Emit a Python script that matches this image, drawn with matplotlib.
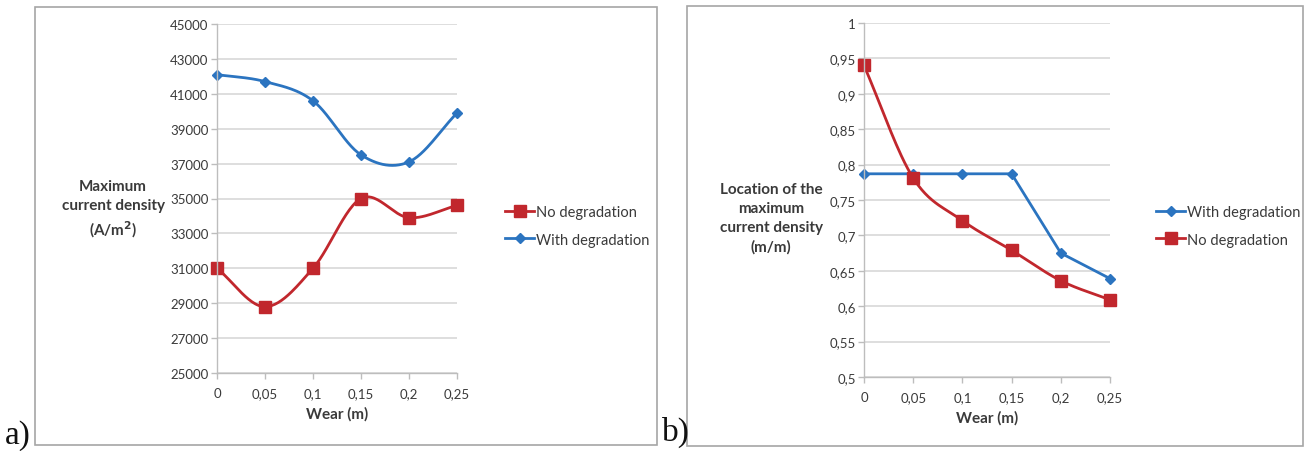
import numpy as np
import matplotlib.pyplot as plt
from matplotlib.patches import Rectangle
from matplotlib.lines import Line2D

plt.rcParams["font.family"] = ["Lato", "DejaVu Sans"]

# ---------------- Dados ----------------
wear = [0, 0.05, 0.1, 0.15, 0.2, 0.25]
wear_labels = ["0", "0,05", "0,1", "0,15", "0,2", "0,25"]

# a) densidade de corrente máxima (A/m²)
jmax_no_deg = [31000, 28800, 31000, 35000, 33900, 34600]
jmax_with_deg = [42100, 41700, 40600, 37500, 37100, 39900]
jmax_ticks = [25000, 27000, 29000, 31000, 33000, 35000, 37000, 39000, 41000, 43000, 45000]

# b) posição da densidade máxima (m/m)
loc_with_deg = [0.787, 0.787, 0.787, 0.787, 0.675, 0.639]
loc_no_deg = [0.94, 0.781, 0.721, 0.679, 0.636, 0.609]
loc_ticks = [0.5, 0.55, 0.6, 0.65, 0.7, 0.75, 0.8, 0.85, 0.9, 0.95, 1.0]
loc_labels = ["0,5", "0,55", "0,6", "0,65", "0,7", "0,75", "0,8", "0,85", "0,9", "0,95", "1"]

BLUE = "#2b74c0"
RED = "#c1272d"
GRID = "#d4d4d4"
AXIS = "#bdbdbd"
TXT = "#3a3a3a"


def suaviza(x, y, n=30):
    """Curva tipo 'linha suavizada' do Excel (Catmull-Rom) passando pelos pontos."""
    x = np.asarray(x, float)
    y = np.asarray(y, float)
    px = np.concatenate([[2 * x[0] - x[1]], x, [2 * x[-1] - x[-2]]])
    py = np.concatenate([[2 * y[0] - y[1]], y, [2 * y[-1] - y[-2]]])
    xs, ys = [], []
    t = np.linspace(0, 1, n)
    for i in range(1, len(px) - 2):
        for p, out in ((px, xs), (py, ys)):
            p0, p1, p2, p3 = p[i - 1], p[i], p[i + 1], p[i + 2]
            c1 = p1 + (p2 - p0) / 6
            c2 = p2 - (p3 - p1) / 6
            out.extend((1 - t) ** 3 * p1 + 3 * (1 - t) ** 2 * t * c1
                       + 3 * (1 - t) * t ** 2 * c2 + t ** 3 * p2)
    return np.array(xs), np.array(ys)


def estilo_eixo(ax, yticks, ylabels):
    ax.set_xlim(0, 0.25)
    ax.set_ylim(yticks[0], yticks[-1])
    ax.set_xticks(wear)
    ax.set_xticklabels(wear_labels)
    ax.set_yticks(yticks)
    ax.set_yticklabels(ylabels)
    ax.grid(axis="y", color=GRID, lw=1.1)
    ax.set_axisbelow(True)
    for s in ("top", "right"):
        ax.spines[s].set_visible(False)
    for s in ("left", "bottom"):
        ax.spines[s].set_color(AXIS)
        ax.spines[s].set_linewidth(1.0)
    ax.tick_params(axis="both", colors=AXIS, length=4, width=1.0,
                   labelsize=9.5, labelcolor=TXT)
    ax.tick_params(axis="y", pad=2)
    ax.tick_params(axis="x", pad=6)
    ax.set_xlabel("Wear (m)", fontsize=11, fontweight="bold", color=TXT, labelpad=5)


fig = plt.figure(figsize=(13.09, 4.52), dpi=100)

# molduras dos dois gráficos
for x0, x1, y0, y1 in ((35, 657, 8, 446), (687, 1303, 7, 447)):
    fig.patches.append(Rectangle((x0 / 1309, 1 - y1 / 452), (x1 - x0) / 1309, (y1 - y0) / 452,
                                 transform=fig.transFigure, fill=False,
                                 edgecolor="#a6a6a6", lw=1.2))

# ---------------- a) ----------------
ax1 = fig.add_axes([217 / 1309, 1 - 374 / 452, 240 / 1309, 349 / 452])
estilo_eixo(ax1, jmax_ticks, [str(v) for v in jmax_ticks])
sx, sy = suaviza(wear, jmax_no_deg)
ax1.plot(sx, sy, color=RED, lw=2.0)
ax1.plot(wear, jmax_no_deg, ls="none", marker="s", ms=8, color=RED, clip_on=False)
sx, sy = suaviza(wear, jmax_with_deg)
ax1.plot(sx, sy, color=BLUE, lw=2.0)
ax1.plot(wear, jmax_with_deg, ls="none", marker="D", ms=5, color=BLUE, clip_on=False)
fig.text(113 / 1309, 1 - 210 / 452, "Maximum\ncurrent density\n(A/m$^\\mathbf{2}$)", ha="center",
         va="center", fontsize=11, fontweight="bold", color=TXT, linespacing=1.4)

h_red = Line2D([], [], color=RED, lw=2.0, marker="s", ms=8)
h_blue = Line2D([], [], color=BLUE, lw=2.0, marker="D", ms=5)
fig.legend([h_red, h_blue], ["No degradation", "With degradation"],
           loc="center left", bbox_to_anchor=(492 / 1309, 1 - 227 / 452), frameon=False,
           fontsize=10.5, handlelength=2.0, handletextpad=0.1, labelspacing=0.9,
           labelcolor=TXT)

# ---------------- b) ----------------
ax2 = fig.add_axes([864 / 1309, 1 - 378 / 452, 246 / 1309, 354 / 452])
estilo_eixo(ax2, loc_ticks, loc_labels)
ax2.plot(wear, loc_with_deg, color=BLUE, lw=2.0, marker="D", ms=5, clip_on=False)
sx, sy = suaviza(wear, loc_no_deg)
ax2.plot(sx, sy, color=RED, lw=2.0)
ax2.plot(wear, loc_no_deg, ls="none", marker="s", ms=8, color=RED, clip_on=False)
fig.text(771 / 1309, 1 - 219 / 452, "Location of the\nmaximum\ncurrent density\n(m/m)",
         ha="center", va="center", fontsize=11, fontweight="bold", color=TXT, linespacing=1.45)

fig.legend([h_blue, h_red], ["With degradation", "No degradation"],
           loc="center left", bbox_to_anchor=(1143 / 1309, 1 - 227 / 452), frameon=False,
           fontsize=10.5, handlelength=2.0, handletextpad=0.1, labelspacing=0.9,
           labelcolor=TXT)

# rótulos dos painéis
fig.text(5 / 1309, 1 - 436 / 452, "a)", family=["Liberation Serif", "DejaVu Serif"],
         fontsize=24, va="center", ha="left", color="#111111")
fig.text(662 / 1309, 1 - 432 / 452, "b)", family=["Liberation Serif", "DejaVu Serif"],
         fontsize=24, va="center", ha="left", color="#111111")

fig.savefig("out.png", dpi=100)
